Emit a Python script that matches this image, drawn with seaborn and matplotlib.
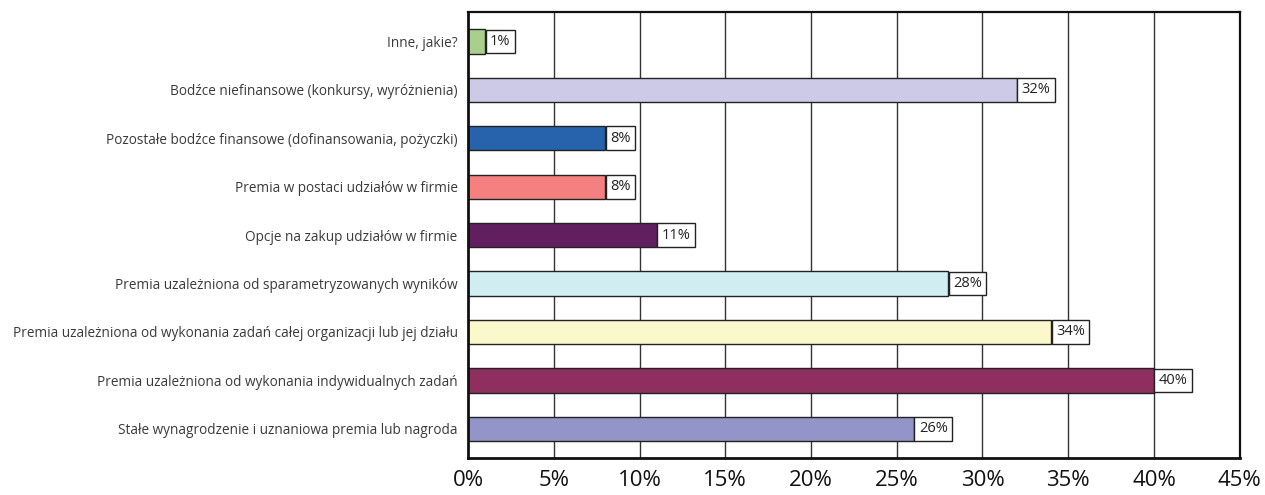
import pandas as pd
import matplotlib.pyplot as plt
import seaborn as sns

# categories from top to bottom as in the chart
categories = [
    'Inne, jakie?',
    'Bodźce niefinansowe (konkursy, wyróżnienia)',
    'Pozostałe bodźce finansowe (dofinansowania, pożyczki)',
    'Premia w postaci udziałów w firmie',
    'Opcje na zakup udziałów w firmie',
    'Premia uzależniona od sparametryzowanych wyników',
    'Premia uzależniona od wykonania zadań całej organizacji lub jej działu',
    'Premia uzależniona od wykonania indywidualnych zadań',
    'Stałe wynagrodzenie i uznaniowa premia lub nagroda',
]
values = [1, 32, 8, 8, 11, 28, 34, 40, 26]
colors = ['#a9cf8c', '#cccae6', '#2763ad', '#f48080', '#611f5f',
          '#d0eef2', '#fbf8cc', '#8f2f5f', '#9394c8']
xticks = [0, 5, 10, 15, 20, 25, 30, 35, 40, 45]

df = pd.DataFrame({'cat': categories, 'val': values})

sns.set_style('white')
plt.rcParams['font.family'] = ['Open Sans', 'DejaVu Sans']

fig = plt.figure(figsize=(12.65, 4.95), dpi=100)
ax = fig.add_axes([0.370, 0.075, 0.610, 0.900])

ax.set_axisbelow(True)
for t in xticks[1:-1]:
    ax.axvline(t, color='#333333', lw=1.0, zorder=0)

sns.barplot(data=df, x='val', y='cat', hue='cat', palette=colors, legend=False,
            saturation=1, width=0.5, edgecolor='#222222', linewidth=1.0,
            ax=ax, zorder=2)

for i, v in enumerate(values):
    ax.annotate(f'{v}%', xy=(v, i), xytext=(3.5, 0), textcoords='offset points',
                va='center', ha='left', fontsize=10.5, color='#222222',
                bbox=dict(boxstyle='square,pad=0.3', fc='white', ec='#222222', lw=1.0),
                zorder=3)

ax.set_xlim(0, 45)
ax.set_ylim(len(categories) - 0.4, -0.6)
ax.set_xticks(xticks)
ax.set_xticklabels([f'{t}%' for t in xticks], fontsize=16, color='#111111')
ax.tick_params(axis='x', length=0, pad=9)
ax.tick_params(axis='y', length=0, pad=7.5, labelsize=9.8, labelcolor='#3a3a3a')
ax.set_xlabel('')
ax.set_ylabel('')

for side, lw in [('left', 2.0), ('bottom', 2.0), ('right', 1.6), ('top', 1.6)]:
    ax.spines[side].set_visible(True)
    ax.spines[side].set_color('#111111')
    ax.spines[side].set_linewidth(lw)

fig.savefig('out.png', dpi=100)
